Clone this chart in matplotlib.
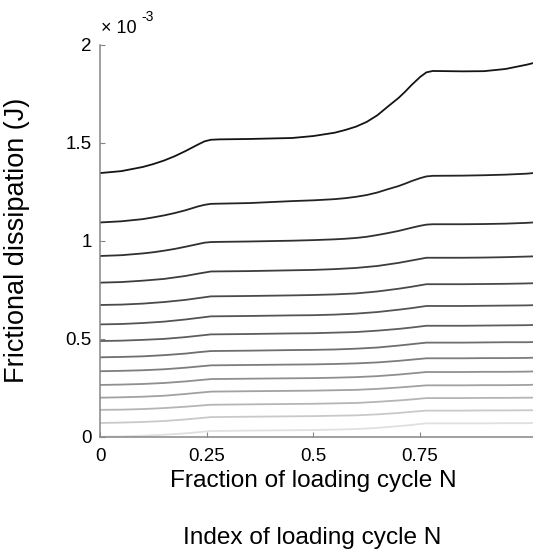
import matplotlib
matplotlib.use("Agg")
import matplotlib.pyplot as plt

plt.rcParams['font.family'] = ['Liberation Sans', 'DejaVu Sans']

# Fraction of loading cycle: dense sampling for the three upper cycles
x_frac_fine = [0, 0.05, 0.1, 0.125, 0.15, 0.175, 0.2, 0.215, 0.23, 0.245, 0.26, 0.28,
               0.35, 0.45, 0.5, 0.55, 0.575, 0.6, 0.625, 0.65, 0.675, 0.7, 0.715, 0.73,
               0.75, 0.765, 0.78, 0.85, 0.9, 0.95, 1.0, 1.015]
# coarser sampling for the flatter lower cycles
x_frac = [0, 0.05, 0.1, 0.15, 0.2, 0.23, 0.26, 0.35, 0.45, 0.5, 0.55, 0.6,
          0.65, 0.7, 0.73, 0.765, 0.85, 0.9, 0.95, 1.0, 1.015]

# Frictional dissipation (x 1e-3 J), one list per loading cycle (top = latest)
cycle_01 = [1.345, 1.355, 1.376, 1.391, 1.409, 1.431, 1.457, 1.474, 1.491, 1.507, 1.515,
            1.517, 1.519, 1.524, 1.534, 1.551, 1.565, 1.582, 1.606, 1.640, 1.685, 1.729,
            1.760, 1.794, 1.835, 1.859, 1.866, 1.864, 1.865, 1.876, 1.898, 1.906]
cycle_02 = [1.093, 1.099, 1.110, 1.119, 1.129, 1.141, 1.155, 1.165, 1.175, 1.183, 1.188,
            1.189, 1.192, 1.202, 1.206, 1.212, 1.217, 1.224, 1.233, 1.246, 1.263, 1.279,
            1.291, 1.304, 1.319, 1.328, 1.331, 1.332, 1.334, 1.337, 1.342, 1.345]
cycle_03 = [0.922, 0.926, 0.935, 0.941, 0.949, 0.958, 0.969, 0.976, 0.983, 0.990, 0.993,
            0.994, 0.996, 1.000, 1.003, 1.007, 1.010, 1.014, 1.020, 1.029, 1.039, 1.050,
            1.058, 1.066, 1.076, 1.082, 1.084, 1.084, 1.085, 1.087, 1.091, 1.093]
cycle_04 = [0.786, 0.789, 0.796, 0.805, 0.820, 0.832, 0.843, 0.845, 0.849, 0.851, 0.855,
            0.861, 0.871, 0.887, 0.899, 0.913, 0.913, 0.914, 0.916, 0.919, 0.920]
cycle_05 = [0.672, 0.674, 0.679, 0.687, 0.698, 0.707, 0.716, 0.718, 0.721, 0.723, 0.726,
            0.731, 0.741, 0.755, 0.765, 0.778, 0.778, 0.779, 0.780, 0.782, 0.783]
cycle_06 = [0.573, 0.575, 0.580, 0.587, 0.598, 0.606, 0.614, 0.616, 0.619, 0.620, 0.623,
            0.628, 0.636, 0.648, 0.656, 0.667, 0.667, 0.668, 0.669, 0.670, 0.671]
cycle_07 = [0.488, 0.490, 0.494, 0.499, 0.508, 0.515, 0.522, 0.524, 0.527, 0.528, 0.531,
            0.534, 0.541, 0.550, 0.557, 0.566, 0.566, 0.567, 0.568, 0.569, 0.570]
cycle_08 = [0.405, 0.407, 0.410, 0.416, 0.424, 0.431, 0.437, 0.439, 0.442, 0.443, 0.445,
            0.449, 0.455, 0.465, 0.472, 0.480, 0.480, 0.481, 0.482, 0.482, 0.483]
cycle_09 = [0.334, 0.336, 0.339, 0.344, 0.352, 0.358, 0.364, 0.366, 0.368, 0.369, 0.371,
            0.374, 0.379, 0.387, 0.393, 0.400, 0.400, 0.401, 0.401, 0.402, 0.403]
cycle_10 = [0.264, 0.266, 0.269, 0.274, 0.282, 0.288, 0.294, 0.296, 0.298, 0.299, 0.301,
            0.304, 0.309, 0.317, 0.323, 0.330, 0.330, 0.331, 0.331, 0.332, 0.333]
cycle_11 = [0.199, 0.201, 0.204, 0.209, 0.218, 0.224, 0.230, 0.232, 0.234, 0.235, 0.237,
            0.239, 0.244, 0.251, 0.256, 0.262, 0.262, 0.263, 0.263, 0.264, 0.265]
cycle_12 = [0.137, 0.138, 0.141, 0.146, 0.153, 0.158, 0.163, 0.165, 0.167, 0.168, 0.170,
            0.172, 0.178, 0.185, 0.190, 0.197, 0.197, 0.198, 0.198, 0.199, 0.199]
cycle_13 = [0.070, 0.072, 0.075, 0.080, 0.088, 0.094, 0.100, 0.102, 0.104, 0.105, 0.107,
            0.109, 0.114, 0.121, 0.127, 0.133, 0.133, 0.134, 0.134, 0.135, 0.135]
cycle_14 = [0.000, 0.001, 0.005, 0.010, 0.017, 0.023, 0.029, 0.031, 0.033, 0.034, 0.036,
            0.039, 0.045, 0.054, 0.060, 0.068, 0.068, 0.068, 0.069, 0.069, 0.070]

cycles = [cycle_01, cycle_02, cycle_03, cycle_04, cycle_05, cycle_06, cycle_07,
          cycle_08, cycle_09, cycle_10, cycle_11, cycle_12, cycle_13, cycle_14]
gray_levels = [0.08, 0.14, 0.19, 0.24, 0.29, 0.33, 0.37, 0.43, 0.49, 0.56, 0.63, 0.71, 0.79, 0.88]

x_ticks = [0, 0.25, 0.5, 0.75]
x_tick_labels = ['0', '0.25', '0.5', '0.75']
y_ticks = [0, 0.5, 1, 1.5, 2]
y_tick_labels = ['0', '0.5', '1', '1.5', '2']

W, H = 533, 552
fig = plt.figure(figsize=(W / 100, H / 100), dpi=100)
ax_left, ax_bottom_px, ax_top_px = 100, 436.7, 44.7
ax = fig.add_axes([ax_left / W, (H - ax_bottom_px) / H, (W - ax_left) / W,
                   (ax_bottom_px - ax_top_px) / H])
x_max = (W - ax_left) / 426.7

for vals, g in zip(cycles, gray_levels):
    xs = x_frac_fine if len(vals) == len(x_frac_fine) else x_frac
    ax.plot(xs, vals, color=(g, g, g), lw=1.3, solid_capstyle='round',
            solid_joinstyle='round')

ax.set_xlim(0, x_max)
ax.set_ylim(0, 2)
ax.set_xticks(x_ticks)
ax.set_xticklabels(x_tick_labels)
ax.set_yticks(y_ticks)
ax.set_yticklabels(y_tick_labels)
spine_col = '#858585'
for s in ['top', 'right']:
    ax.spines[s].set_visible(False)
for s in ['left', 'bottom']:
    ax.spines[s].set_color(spine_col)
    ax.spines[s].set_linewidth(1.1)
ax.tick_params(direction='in', length=3.5, width=0.8, color=spine_col,
               labelsize=13.5, labelcolor='black')
ax.tick_params(axis='x', pad=8)
ax.tick_params(axis='y', pad=6)

ax.set_xlabel('Fraction of loading cycle N', fontsize=17.6, labelpad=4)
ax.xaxis.set_label_coords(0.5 / x_max, -0.085)
fig.text(17 / W, 1 - 240.7 / H, 'Frictional dissipation (J)', rotation=90,
         fontsize=19.5, ha='center', va='center')
fig.text(312 / W, 1 - 538 / H, 'Index of loading cycle N', fontsize=17.6,
         ha='center', va='center')
fig.text(101 / W, 1 - 33 / H, '\u00d7 10', fontsize=13, ha='left', va='baseline')
fig.text(141 / W, 1 - 21 / H, '-3', fontsize=10, ha='left', va='baseline')

fig.savefig('out.png', dpi=100)
